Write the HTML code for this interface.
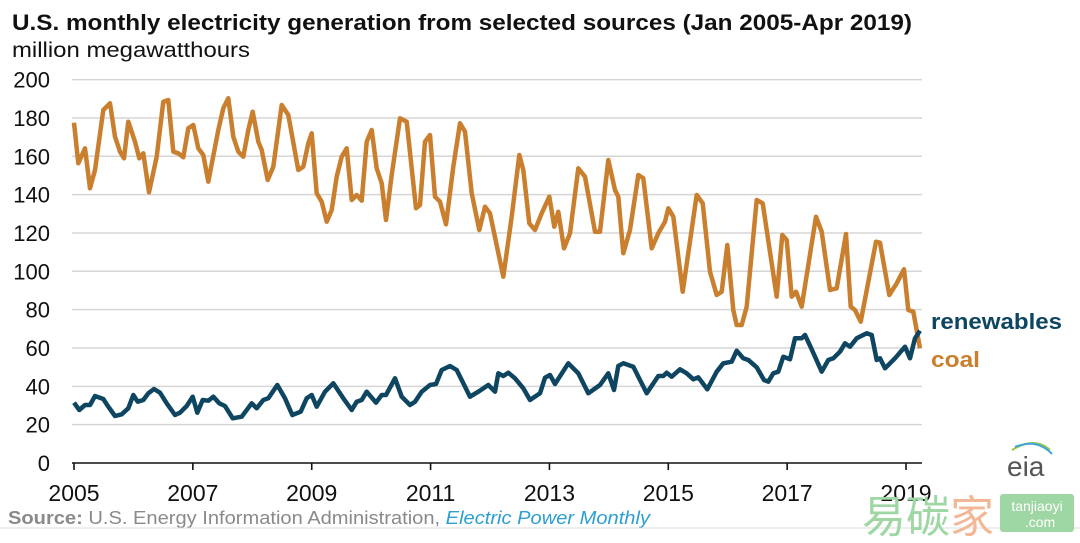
<!DOCTYPE html>
<html><head><meta charset="utf-8"><style>
body{margin:0;background:#fff;width:1080px;height:543px;overflow:hidden}
svg{display:block}
text{font-family:"Liberation Sans",Arial,sans-serif}
</style></head><body>
<svg id="s" width="1080" height="543" viewBox="0 0 1080 543">
<text x="12" y="30" font-size="22" font-weight="bold" fill="#111" textLength="900" lengthAdjust="spacingAndGlyphs">U.S. monthly electricity generation from selected sources (Jan 2005-Apr 2019)</text>
<text x="12" y="57" font-size="21" fill="#111" textLength="238" lengthAdjust="spacingAndGlyphs">million megawatthours</text>
<g id="grid" stroke="#d6d6d6" stroke-width="1.5"></g>
<g id="ylab" font-size="22" fill="#111" text-anchor="end"></g>
<line x1="72" y1="463" x2="922" y2="463" stroke="#111" stroke-width="1.6"/>
<g id="xt" stroke="#111" stroke-width="1.6"></g>
<g id="xlab" font-size="23" fill="#111" text-anchor="middle"></g>
<polyline id="coal" fill="none" stroke="#c97f2e" stroke-width="4.5" stroke-linejoin="round"/>
<polyline id="ren" fill="none" stroke="#0e4560" stroke-width="4.5" stroke-linejoin="round"/>
<text x="931" y="329" font-size="22" font-weight="bold" fill="#0e4560" textLength="131" lengthAdjust="spacingAndGlyphs">renewables</text>
<text x="931" y="367" font-size="22" font-weight="bold" fill="#c97f2e" textLength="49" lengthAdjust="spacingAndGlyphs">coal</text>
<text x="1007" y="476" font-size="28" fill="#555" font-family="Liberation Serif,serif">eia</text>
<path d="M1012 450 Q1035 436 1050 450" fill="none" stroke="#9cc84a" stroke-width="2"/>
<path d="M1015 447 Q1037 438 1052 454" fill="none" stroke="#3fa5d8" stroke-width="2"/>
<text x="8" y="524" font-size="18" fill="#8a8a8a" textLength="642" lengthAdjust="spacingAndGlyphs"><tspan font-weight="bold">Source:</tspan> U.S. Energy Information Administration, <tspan fill="#2d9fd0" font-style="italic">Electric Power Monthly</tspan></text>
<line x1="0" y1="528" x2="1080" y2="528" stroke="#ddd" stroke-width="1"/>
<text x="862" y="532" font-size="44" fill="#9ed6a4" font-family="Noto Sans CJK SC,sans-serif">易碳<tspan fill="#f2b896">家</tspan></text>
<rect x="1000" y="494" width="74" height="38" rx="3" fill="#9ed6a4"/>
<text x="1037" y="511" font-size="14" fill="#fff" text-anchor="middle">tanjiaoyi</text>
<text x="1040" y="527" font-size="14" fill="#fff" text-anchor="middle">.com</text>
</svg>
<script>
var NS="http://www.w3.org/2000/svg";
function el(p,t,a,tx){var e=document.createElementNS(NS,t);for(var k in a)e.setAttribute(k,a[k]);if(tx)e.textContent=tx;document.getElementById(p).appendChild(e);}
for(var v=20;v<=200;v+=20){var y=463-v*1.917;el("grid","line",{x1:72,x2:922,y1:y,y2:y});}
for(var v=0;v<=200;v+=20){var y=463-v*1.917;el("ylab","text",{x:50,y:y+8},String(v));}
for(var i=0;i<8;i++){var x=74+i*118.86;el("xt","line",{x1:x,x2:x,y1:463,y2:470});el("xlab","text",{x:x,y:501},String(2005+2*i));}
var c1=[42,128,55,250,75,205,90,325,105,270,130,90,150,70,165,170,180,215,192,235,205,125,225,185,238,235,250,220,267,337,290,230,310,65,325,60,340,215,355,220,370,232,385,145,400,135,415,205,430,225,445,305,475,150,490,85,505,55,520,170,535,215,550,230,565,150,578,95,595,185,605,210,623,300,640,260,665,75,685,105,715,270,730,260,745,190,755,160,770,340,785,365,800,425,815,390,830,290,845,230,860,205,875,360,890,345,905,362,920,185,935,150,950,265,965,310,978,420,995,285,1020,115,1040,125,1068,385,1080,375,1095,185,1110,165,1125,350,1140,365,1158,433,1180,260,1200,130,1215,155,1235,340,1258,450,1275,380,1290,400];
var c2=[40,590,65,410,88,225,100,270,118,430,135,450,155,400,178,350,193,440,205,395,222,505,240,460,265,265,285,290,315,455,330,455,355,240,375,330,385,350,400,520,420,450,445,285,460,295,485,505,505,460,525,425,535,385,550,410,578,635,620,345,638,370,660,575,680,645,695,635,712,495,730,690,740,735,755,735,770,680,800,360,818,370,860,650,877,465,890,480,905,650,918,635,935,680,978,410,995,455,1020,630,1040,625,1068,462,1082,680,1095,690,1112,725,1158,485,1170,488,1198,645,1220,610,1242,568,1255,690,1270,695,1290,805];
var r1=[42,968,58,990,75,975,90,975,105,948,130,957,145,980,165,1008,185,1003,205,985,220,945,233,965,250,960,265,940,282,927,300,938,320,970,345,1005,360,998,380,978,398,950,412,998,428,960,445,962,460,950,478,970,495,978,518,1015,545,1010,575,970,590,985,610,960,625,955,652,915,675,955,697,1005,722,995,740,955,755,945,770,980,795,935,820,910,850,955,875,990,890,965,905,960,920,935,948,968,965,945,978,945,1005,895,1025,950,1050,975,1065,965,1085,935,1110,915,1128,912,1145,870,1170,858,1190,870,1230,950,1255,935,1285,915,1305,935];
var r2=[15,935,25,880,40,888,55,878,75,895,100,925,120,960,150,940,165,893,180,885,195,912,235,850,265,880,295,940,330,915,355,880,372,930,385,858,400,850,430,860,470,940,505,888,520,888,530,878,545,890,570,868,590,880,610,898,625,892,652,928,680,875,700,850,725,845,740,812,760,835,775,840,800,862,822,900,835,905,850,880,865,875,880,830,900,838,915,775,935,775,945,765,965,808,995,875,1015,840,1030,835,1050,815,1065,790,1080,800,1100,775,1130,760,1145,765,1160,840,1170,835,1185,865,1215,835,1245,800,1260,835,1275,775,1290,752];
function pts(a,ox){var s=[];for(var i=0;i<a.length;i+=2)s.push((ox+a[i]/3).toFixed(1)+","+(80+a[i+1]/3).toFixed(1));return s;}
document.getElementById("coal").setAttribute("points",pts(c1,60).concat(pts(c2,490)).join(" "));
document.getElementById("ren").setAttribute("points",pts(r1,60).concat(pts(r2,490)).join(" "));
</script>
</body></html>
